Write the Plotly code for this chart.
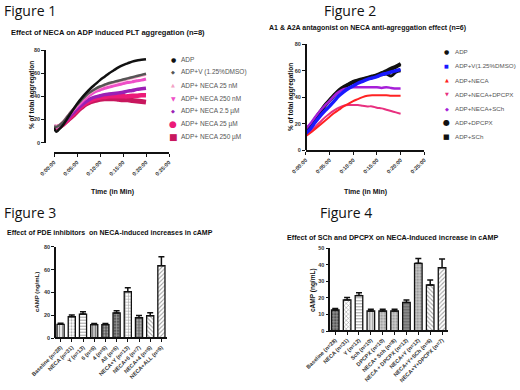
import plotly.graph_objects as go

W, H = 520, 390


def px(x):
    return x / W


def py(y):
    return 1 - y / H


# ---------------- Figure 1 data ----------------
t1 = [0, 0.5, 1, 2, 3, 4, 5, 6, 7, 8, 9, 10, 11, 12, 13, 14, 15, 16, 17, 18, 19, 20]
f1_adp = [13, 9.5, 11, 15.5, 21.5, 27.5, 33.5, 38.5, 43, 47, 50.5, 54, 57, 60, 62.5, 65, 67, 68.5, 70, 71, 71.5, 72]
f1_v = [14, 13.5, 14.5, 18, 23, 28, 32.5, 37, 41, 44, 46.5, 48.5, 50, 51.5, 52.5, 53.5, 54.5, 55.5, 56.5, 57.5, 58.5, 59.5]
f1_25n = [14, 13.5, 14.5, 18, 23, 28, 32.5, 37, 40.5, 43.5, 46, 48, 49.5, 51, 52, 53, 54, 55, 56, 57, 58, 59]
f1_250n = [14, 13.5, 14.5, 17.5, 22.5, 27, 31, 35, 38.5, 41.5, 44, 45.5, 47, 48, 49, 50, 51, 52, 52.5, 53.5, 54, 55]
f1_2_5u = [14, 13.5, 14, 17, 21, 25, 29, 32.5, 35.5, 38, 39.5, 40.5, 41.5, 42, 42.5, 43, 43.5, 44.5, 45, 46, 46.5, 47]
f1_25u = [14, 13.5, 14, 16.5, 20, 24, 28, 31.5, 34.5, 36.5, 38, 39, 39.5, 40, 40, 40, 40, 40, 40.5, 40.5, 41, 41]
f1_250u = [13.5, 13, 13.5, 16, 19.5, 23, 27, 30.5, 33.5, 35.5, 36.5, 37.5, 38, 38, 38, 37.5, 37, 37, 36.5, 36, 35.5, 35]
f1_names = ["ADP", "ADP+V (1.25%DMSO)", "ADP+ NECA 25 nM", "ADP+ NECA 250 nM",
            "ADP+ NECA 2.5 µM", "ADP+ NECA 25 µM", "ADP+ NECA 250 µM"]
time_ticks = [0, 5, 10, 15, 20, 25]
time_labels = ["0:00:00", "0:05:00", "0:10:00", "0:15:00", "0:20:00", "0:25:00"]

# ---------------- Figure 2 data ----------------
t2 = list(range(0, 21))
f2_adp = [15, 19, 24, 29, 34, 38, 42, 45.5, 48, 50, 52, 53, 54, 55, 56, 57, 58.5, 60, 62, 63.5, 65.5]
f2_v = [12.5, 16, 21, 25.5, 29.5, 33, 37, 41, 44, 46.5, 48.5, 50.5, 52, 53.5, 54.5, 55.5, 57, 58, 59, 60, 61]
f2_neca = [10.5, 13, 16, 19, 22, 25, 28, 30.5, 33, 35, 37, 38.5, 40, 41, 41.5, 41.5, 41.5, 41.5, 41, 41, 41]
f2_dpcpx = [11, 14, 17.5, 21, 24.5, 27.5, 30, 32, 33.5, 34, 34, 34, 33.5, 33, 33, 32, 31.5, 30.5, 29.5, 28.5, 27.5]
f2_sch = [16, 20, 25, 29.5, 33.5, 37, 41, 44, 46, 47, 47.5, 47.5, 47.5, 47.5, 47.5, 47.5, 47, 47.5, 47, 46.5, 46.5]
f2_adp_dpcpx = [14.5, 18.5, 23.5, 28.5, 33.5, 37.5, 41.5, 45, 47.5, 49.5, 51.5, 52.5, 53.5, 54.5, 55.5, 56.5, 58, 59.5, 61, 62.5, 64.5]
f2_adp_sch = [14, 18, 23, 28, 33, 37, 41, 44.5, 47, 49, 51, 52, 53, 54, 55, 56, 57, 57.5, 56, 59, 60]
f2_names = ["ADP", "ADP+V(1.25%DMSO)", "ADP+NECA", "ADP+NECA+DPCPX", "ADP+NECA+SCh", "ADP+DPCPX", "ADP+SCh"]

# ---------------- Figure 3 data ----------------
f3_cats = ["Baseline (n=28)", "NECA (n=31)", "Y (n=13)", "6 (n=6)", "4 (n=6)", "All (n=6)",
           "NECA+Y (n=13)", "NECA+6 (n=7)", "NECA+4 (n=6)", "NECA+ALL (n=6)"]
f3_vals = [12.2, 18.9, 21.2, 12.0, 12.0, 22.2, 40.7, 18.0, 19.8, 63.4]
f3_err = [1.0, 1.5, 2.0, 1.0, 1.0, 1.8, 3.5, 2.0, 2.5, 7.8]

# ---------------- Figure 4 data ----------------
f4_cats = ["Baseline (n=28)", "NECA (n=31)", "Y (n=12)", "Sch (n=10)", "DPCPX (n=10)",
           "NECA+ Sch (n=8)", "NECA + DPCPX (n=12)", "NECA+Y (n=12)", "NECA+Y+SCh (n=6)", "NECA+Y+DPCPX (n=7)"]
f4_vals = [12.7, 18.8, 21.4, 12.1, 12.1, 12.1, 17.3, 40.9, 27.8, 38.3]
f4_err = [0.9, 1.5, 1.8, 1.0, 1.0, 1.0, 1.4, 3.0, 3.0, 5.2]

TF = "Liberation Sans"
fig = go.Figure()

# ---- Figure 1 traces ----
f1_series = [f1_adp, f1_v, f1_25n, f1_250n, f1_2_5u, f1_25u, f1_250u]
f1_colors = ["#111111", "#555555", "#f3a3c6", "#ef4fc8", "#9b1fb5", "#ec1a78", "#c8175e"]
f1_widths = [2.5, 2.5, 3, 3, 3.5, 4.5, 5]
for i in reversed(range(len(f1_series))):
    fig.add_trace(go.Scatter(x=t1, y=f1_series[i], mode="lines", line=dict(color=f1_colors[i], width=f1_widths[i], shape="spline"),
                             xaxis="x", yaxis="y", showlegend=False, name=f1_names[i]))

# ---- Figure 2 traces ----
f2_series = [f2_adp, f2_v, f2_neca, f2_dpcpx, f2_sch, f2_adp_dpcpx, f2_adp_sch]
f2_colors = ["#111111", "#1a1aff", "#ff2222", "#e8307f", "#a61fd8", "#111111", "#111111"]
f2_widths = [3, 3.5, 2, 2, 2.5, 3, 3]
for i in [6, 5, 0, 4, 3, 2, 1]:
    fig.add_trace(go.Scatter(x=t2, y=f2_series[i], mode="lines", line=dict(color=f2_colors[i], width=f2_widths[i], shape="spline"),
                             xaxis="x2", yaxis="y2", showlegend=False, name=f2_names[i]))

# ---- Figure 3 bars ----
f3_shapes = ["|", ".", "-", "|", ".", "+", "+", ".", "\\", "/"]
f3_bg = ["#e6e6e6", "#ffffff", "#ffffff", "#bfbfbf", "#5a5a5a", "#5a5a5a", "#ffffff", "#707070", "#ffffff", "#ffffff"]
fig.add_trace(go.Bar(x=f3_cats, y=f3_vals, xaxis="x3", yaxis="y3", showlegend=False,
                     marker=dict(color=f3_bg, line=dict(color="#111111", width=1.3),
                                 pattern=dict(shape=f3_shapes, fgcolor="#222222", size=3, solidity=0.35)),
                     error_y=dict(type="data", symmetric=False, array=f3_err, arrayminus=[0] * len(f3_err),
                                  color="#111111", thickness=1.5, width=3)))

# ---- Figure 4 bars ----
f4_shapes = ["+", "x", "-", "|", ".", ".", "-", ".", "\\", "/"]
f4_bg = ["#555555", "#ffffff", "#ffffff", "#e0e0e0", "#d0d0d0", "#d0d0d0", "#8a8a8a", "#c8c8c8", "#ffffff", "#ffffff"]
fig.add_trace(go.Bar(x=f4_cats, y=f4_vals, xaxis="x4", yaxis="y4", showlegend=False,
                     marker=dict(color=f4_bg, line=dict(color="#111111", width=1.3),
                                 pattern=dict(shape=f4_shapes, fgcolor="#222222", size=3, solidity=0.35)),
                     error_y=dict(type="data", symmetric=False, array=f4_err, arrayminus=[0] * len(f4_err),
                                  color="#111111", thickness=1.5, width=3)))

tickfont = dict(family=TF, size=5.5, color="#333333", weight="bold")
common = dict(showgrid=False, zeroline=False, showline=True, linecolor="#111111", linewidth=1.6,
              ticks="outside", ticklen=3, tickwidth=1.4, tickcolor="#111111", tickfont=tickfont,
              anchor="free", automargin=False)

fig.update_layout(
    width=W, height=H, margin=dict(l=0, r=0, t=0, b=0, autoexpand=False),
    paper_bgcolor="white", plot_bgcolor="white", bargap=0.36, showlegend=False,
    xaxis=dict(domain=[px(54), px(169)], range=[0, 25], position=py(153.3), tickvals=time_ticks,
               ticktext=time_labels, tickangle=-45, **common),
    yaxis=dict(domain=[py(142.7), py(50)], range=[0, 80], position=px(45), tickvals=[0, 20, 40, 60, 80], **common),
    xaxis2=dict(domain=[px(305.7), px(424.3)], range=[0, 25], position=py(151), tickvals=time_ticks,
                ticktext=time_labels, tickangle=-45, **common),
    yaxis2=dict(domain=[py(150), py(44.3)], range=[0, 80], position=px(305.7), tickvals=[0, 20, 40, 60, 80], **common),
    xaxis3=dict(domain=[px(55), px(167)], range=[-0.5, 9.5], position=py(338.3), tickangle=-45, type="category", **common),
    yaxis3=dict(domain=[py(338.3), py(246.7)], range=[0, 80], position=px(55), tickvals=[0, 20, 40, 60, 80], **common),
    xaxis4=dict(domain=[px(329.3), px(448)], range=[-0.5, 9.5], position=py(331), tickangle=-45, type="category", **common),
    yaxis4=dict(domain=[py(331), py(248.3)], range=[0, 50], position=px(329.3), tickvals=[0, 10, 20, 30, 40, 50], **common),
)

ann = []


def text(x, y, s, size=7, bold=True, color="#111111", family=TF, xanchor="center", angle=0):
    ann.append(dict(x=px(x), y=py(y), xref="paper", yref="paper", text=s, showarrow=False,
                    xanchor=xanchor, yanchor="middle", textangle=angle,
                    font=dict(family=family, size=size, color=color, weight="bold" if bold else "normal")))


# figure labels
for lab, x, y in [("Figure 1", 1.5, 10), ("Figure 2", 321.5, 10), ("Figure 3", 1.5, 212.5), ("Figure 4", 318, 212.5)]:
    text(x, y, lab, size=14, bold=False, family="Open Sans", xanchor="left")

# titles
text(108, 32, "Effect of NECA on ADP induced PLT aggregation (n=8)", size=7.5)
text(367, 28.5, "A1 & A2A antagonist on NECA anti-agreggation effect (n=6)", size=7)
text(110, 232.7, "Effect of PDE inhibitors  on NECA-induced increases in cAMP", size=7)
text(392, 237.7, "Effect of SCh and DPCPX on NECA-Induced increase in cAMP", size=7.2)

# axis titles
text(112, 191.7, "Time (in Min)", size=7)
text(365, 192, "Time (in Min)", size=7)
text(32, 95, "% of total aggregation", size=6.5, angle=-90)
text(291, 97, "% of total aggregation", size=6.5, angle=-90)
text(37, 292, "cAMP (ng/mL)", size=6, angle=-90)
text(313, 290, "cAMP (ng/mL)", size=6.5, angle=-90)

# legends
f1_sym = ["●", "◆", "▲", "▼", "◆", "●", "■"]
f1_symsize = [6, 5, 5, 6, 5, 9, 9]
for i, nm in enumerate(f1_names):
    y = 59.3 + i * 12.9
    text(173, y, f1_sym[i], size=f1_symsize[i], bold=False, color=f1_colors[i], family="DejaVu Sans")
    text(179, y, nm, size=6.5, bold=False, color="#555555", xanchor="left")

f2_sym = ["●", "■", "▲", "▼", "◆", "●", "■"]
f2_symsize = [6, 5, 5, 5, 5, 8, 7]
for i, nm in enumerate(f2_names):
    y = 51.7 + i * 14.2
    text(446.5, y, f2_sym[i], size=f2_symsize[i], bold=False, color=f2_colors[i], family="DejaVu Sans")
    text(453, y, nm, size=6.2, bold=False, color="#555555", xanchor="left")

fig.update_layout(annotations=ann)
fig.write_html("out.html", config={"displayModeBar": False},
               post_script="document.body.style.margin='0px';")
